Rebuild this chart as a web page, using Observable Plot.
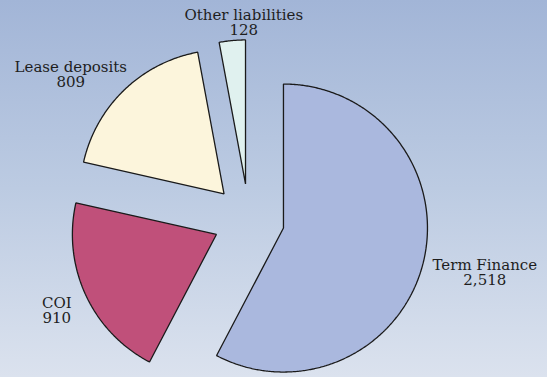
<!DOCTYPE html>
<html>
<head>
<meta charset="utf-8">
<script src="https://cdn.jsdelivr.net/npm/d3@7"></script>
<script src="https://cdn.jsdelivr.net/npm/@observablehq/plot@0.6"></script>
<style>
  html, body { margin: 0; padding: 0; }
  #chart {
    width: 547px; height: 377px;
    background: linear-gradient(to bottom, #a2b5d7 0%, #bccbe2 50%, #dbe2ee 100%);
  }
  #chart svg { background: transparent; display: block; }
</style>
</head>
<body>
<div id="chart"></div>
<script>
// ---- data ----
const categories = ["Term Finance", "COI", "Lease deposits", "Other liabilities"];
const values = [2518, 910, 809, 128];
const valueLabels = ["2,518", "910", "809", "128"];
const colors = ["#aab8de", "#c0507a", "#fcf5dc", "#e0f1ef"];

// ---- layout ----
const W = 547, H = 377;
const center = [248.3, 219];
const radius = 144;
const explode = 35.7;
const labelOffset = [[236, 53], [-192, 91], [-178, -145], [-5, -197]];

const arcs = d3.pie().sort(null).value(d => d)(values);

const polys = [];
const labels = [];
arcs.forEach((a, i) => {
  const mid = (a.startAngle + a.endAngle) / 2;
  const ax = center[0] + explode * Math.sin(mid);
  const ay = center[1] - explode * Math.cos(mid);
  polys.push({name: categories[i], x: ax, y: ay});
  const n = Math.max(4, Math.ceil((a.endAngle - a.startAngle) / (Math.PI / 360)));
  for (let k = 0; k <= n; k++) {
    const t = a.startAngle + (a.endAngle - a.startAngle) * k / n;
    polys.push({name: categories[i], x: ax + radius * Math.sin(t), y: ay - radius * Math.cos(t)});
  }
  labels.push({
    name: categories[i],
    value: valueLabels[i],
    x: center[0] + labelOffset[i][0],
    y: center[1] + labelOffset[i][1]
  });
});

const textStyle = {x: "x", y: "y", fontFamily: "DejaVu Serif", fontSize: 15, fill: "#1e1e1e", textAnchor: "middle", lineAnchor: "middle"};

const plot = Plot.plot({
  width: W, height: H,
  margin: 0,
  x: {domain: [0, W], range: [0, W], axis: null},
  y: {domain: [0, H], range: [0, H], axis: null},
  color: {domain: categories, range: colors},
  style: {background: "transparent"},
  marks: [
    Plot.line(polys, {x: "x", y: "y", z: "name", fill: "name", stroke: "#1a1a1a", strokeWidth: 1.3, curve: "linear-closed", strokeLinejoin: "miter"}),
    Plot.text(labels, {...textStyle, text: "name", dy: -7.5}),
    Plot.text(labels, {...textStyle, text: "value", dy: 7.5})
  ]
});
document.getElementById("chart").appendChild(plot);
</script>
</body>
</html>
